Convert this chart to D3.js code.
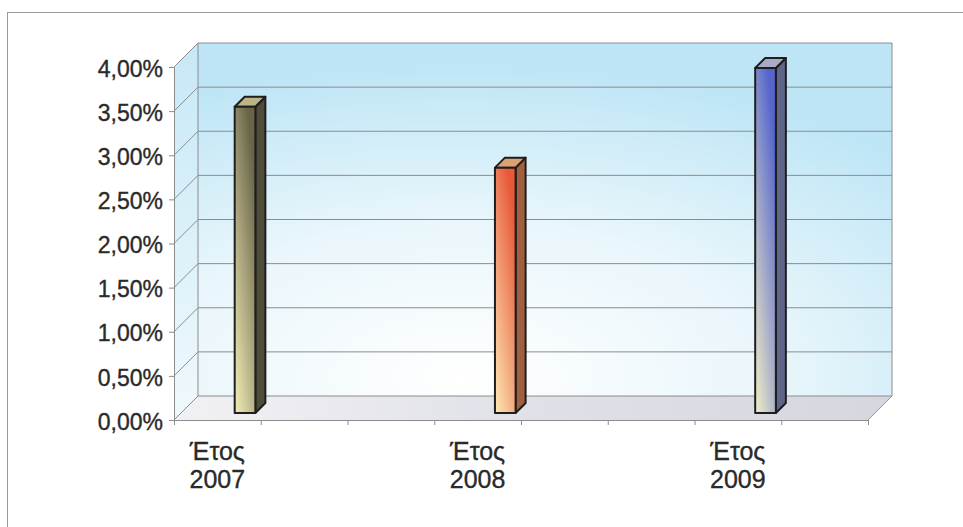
<!DOCTYPE html>
<html>
<head>
<meta charset="utf-8">
<script src="https://cdn.jsdelivr.net/npm/d3@7"></script>
<style>
    body { margin: 0; background: #ffffff; }
    text { font-family: 'Liberation Sans', Arial, sans-serif; fill: #2a2a2a; stroke: #2a2a2a; stroke-width: 0.35px; }
</style>
</head>
<body>
<script>

// Chart data
var years = ['2007', '2008', '2009']
var values = [0.0347, 0.0278, 0.0391]
var yearSlots = [0, 3, 6]
var slotCount = 8
var yTicks = [0, 0.005, 0.01, 0.015, 0.02, 0.025, 0.03, 0.035, 0.04]
var labelPrefix = 'Έτος'

var barColors = [
    { light: '#f3efb9', dark: '#6a6548', side: '#4f4c3a', top: '#bcb486' },
    { light: '#fde9b4', dark: '#e8583a', side: '#a0603f', top: '#dca275' },
    { light: '#f3f0c6', dark: '#5565cc', side: '#5f6588', top: '#a8acc6' }
]

var width = 963
var height = 527

var plotLeft = 174
var plotRight = 868
var plotBottom = 420
var plotTop = 67
var depth = 24
var barFront = 7
var barBack = 17

var svg = d3.select('body')
            .append('svg')
                .attr('width', width)
                .attr('height', height)

var locale = d3.formatLocale({ decimal: ',', thousands: '.', grouping: [3], currency: ['', '€'] })
var pct = locale.format('.2%')

var y = d3.scaleLinear().domain([0, 0.04]).range([plotBottom, plotTop])
var x = d3.scaleBand().domain(d3.range(slotCount)).range([plotLeft, plotRight])
var xEdges = d3.scaleLinear().domain([0, slotCount]).range([plotLeft, plotRight])
// position of the bar inside its slot (third place of a three-place cluster)
var inner = d3.scaleBand().domain([0, 1, 2]).range([0, x.bandwidth()]).paddingOuter(0.6)

function pt(px, py, z) { return (px + z) + ',' + (py - z) }

function drawDefs() {
    var defs = svg.append('defs')

    var wall = defs.append('radialGradient').attr('id', 'wall')
                    .attr('cx', '38%').attr('cy', '95%').attr('r', '90%')
    wall.append('stop').attr('offset', '0').attr('stop-color', '#ffffff')
    wall.append('stop').attr('offset', '0.5').attr('stop-color', '#e9f6fb')
    wall.append('stop').attr('offset', '1').attr('stop-color', '#bde5f6')

    var side = defs.append('linearGradient').attr('id', 'side')
                    .attr('x1', '0').attr('y1', '0').attr('x2', '0').attr('y2', '1')
    side.append('stop').attr('offset', '0').attr('stop-color', '#c6e8f7')
    side.append('stop').attr('offset', '1').attr('stop-color', '#f0f9fc')

    var floor = defs.append('linearGradient').attr('id', 'floor')
                    .attr('x1', '0').attr('y1', '0').attr('x2', '1').attr('y2', '0')
    floor.append('stop').attr('offset', '0').attr('stop-color', '#f1f1f5')
    floor.append('stop').attr('offset', '0.5').attr('stop-color', '#e0e0e8')
    floor.append('stop').attr('offset', '1').attr('stop-color', '#d6d6de')

    barColors.forEach(function(c, i) {
        var g = defs.append('linearGradient').attr('id', 'bar' + i)
                    .attr('x1', '0').attr('y1', '1').attr('x2', '0.6').attr('y2', '0')
        g.append('stop').attr('offset', '0').attr('stop-color', c.light)
        g.append('stop').attr('offset', '1').attr('stop-color', c.dark)
    })
}

function drawWalls() {
    var x0 = plotLeft, x1 = plotRight, yb = y(0), yt = y(0.04)

    svg.append('rect')
        .attr('x', 7.5).attr('y', 12.5)
        .attr('width', 1000).attr('height', 600)
        .attr('fill', 'none').attr('stroke', '#9a9a9a')

    svg.append('polygon')
        .attr('points', [pt(x0, yt, depth), pt(x1, yt, depth), pt(x1, yb, depth), pt(x0, yb, depth)].join(' '))
        .attr('fill', 'url(#wall)')

    svg.append('polygon')
        .attr('points', [pt(x0, yb, 0), pt(x0, yb, depth), pt(x0, yt, depth), pt(x0, yt, 0)].join(' '))
        .attr('fill', 'url(#side)')

    svg.append('polygon')
        .attr('points', [pt(x0, yb, 0), pt(x1, yb, 0), pt(x1, yb, depth), pt(x0, yb, depth)].join(' '))
        .attr('fill', 'url(#floor)')

    // gridlines on back and side walls
    yTicks.forEach(function(t) {
        if (t == 0) return
        svg.append('polyline')
            .attr('points', [pt(x0, y(t), 0), pt(x0, y(t), depth), pt(x1, y(t), depth)].join(' '))
            .attr('fill', 'none').attr('stroke', '#8c8c8c').attr('stroke-width', 1)
    })

    // wall edges
    svg.append('polyline')
        .attr('points', [pt(x0, yb, 0), pt(x0, yb, depth), pt(x1, yb, depth), pt(x1, yt, depth)].join(' '))
        .attr('fill', 'none').attr('stroke', '#8c8c8c')
    svg.append('line')
        .attr('x1', x0 + depth).attr('y1', yt - depth).attr('x2', x0 + depth).attr('y2', yb - depth)
        .attr('stroke', '#8c8c8c')
    svg.append('line')
        .attr('x1', x1).attr('y1', yb).attr('x2', x1 + depth).attr('y2', yb - depth)
        .attr('stroke', '#9a9a9a')
}

function drawBars() {
    years.forEach(function(year, i) {
        var bx0 = x(yearSlots[i]) + inner(2)
        var bx1 = bx0 + inner.bandwidth()
        var yt = y(values[i])
        var yb = y(0)
        var g = svg.append('g')
                    .attr('stroke', '#1e1e1e')
                    .attr('stroke-width', 2)
                    .attr('stroke-linejoin', 'round')

        g.append('polygon')
            .attr('points', [pt(bx1, yt, barFront), pt(bx1, yt, barBack), pt(bx1, yb, barBack), pt(bx1, yb, barFront)].join(' '))
            .attr('fill', barColors[i].side)
        g.append('polygon')
            .attr('points', [pt(bx0, yt, barFront), pt(bx0, yt, barBack), pt(bx1, yt, barBack), pt(bx1, yt, barFront)].join(' '))
            .attr('fill', barColors[i].top)
        g.append('polygon')
            .attr('points', [pt(bx0, yt, barFront), pt(bx1, yt, barFront), pt(bx1, yb, barFront), pt(bx0, yb, barFront)].join(' '))
            .attr('fill', 'url(#bar' + i + ')')
    })
}

function drawAxes() {
    var yAxis = d3.axisLeft(y)
                    .tickValues(yTicks)
                    .tickFormat(pct)
                    .tickSize(5)
                    .tickSizeOuter(0)
                    .tickPadding(6)

    var gy = svg.append('g')
                .attr('transform', 'translate(' + plotLeft + ',0)')
                .call(yAxis)
    gy.selectAll('path, line').attr('stroke', '#8c8c8c')
    gy.selectAll('text')
        .attr('font-size', 23)
        .attr('fill', '#2a2a2a')
        .attr('dy', '0.4em')

    var xAxis = d3.axisBottom(xEdges)
                    .tickValues(d3.range(slotCount + 1))
                    .tickFormat('')
                    .tickSize(5)
                    .tickSizeOuter(0)

    var gx = svg.append('g')
                .attr('transform', 'translate(0,' + plotBottom + ')')
                .call(xAxis)
    gx.selectAll('path, line').attr('stroke', '#8c8c8c')

    years.forEach(function(year, i) {
        var cx = x(yearSlots[i]) + x.bandwidth() / 2
        var t = svg.append('text')
                    .attr('x', cx)
                    .attr('y', 460)
                    .attr('text-anchor', 'middle')
                    .attr('font-size', 25)
        t.append('tspan').attr('x', cx).text(labelPrefix)
        t.append('tspan').attr('x', cx).attr('dy', 28).text(year)
    })
}

drawDefs()
drawWalls()
drawBars()
drawAxes()

</script>
</body>
</html>
